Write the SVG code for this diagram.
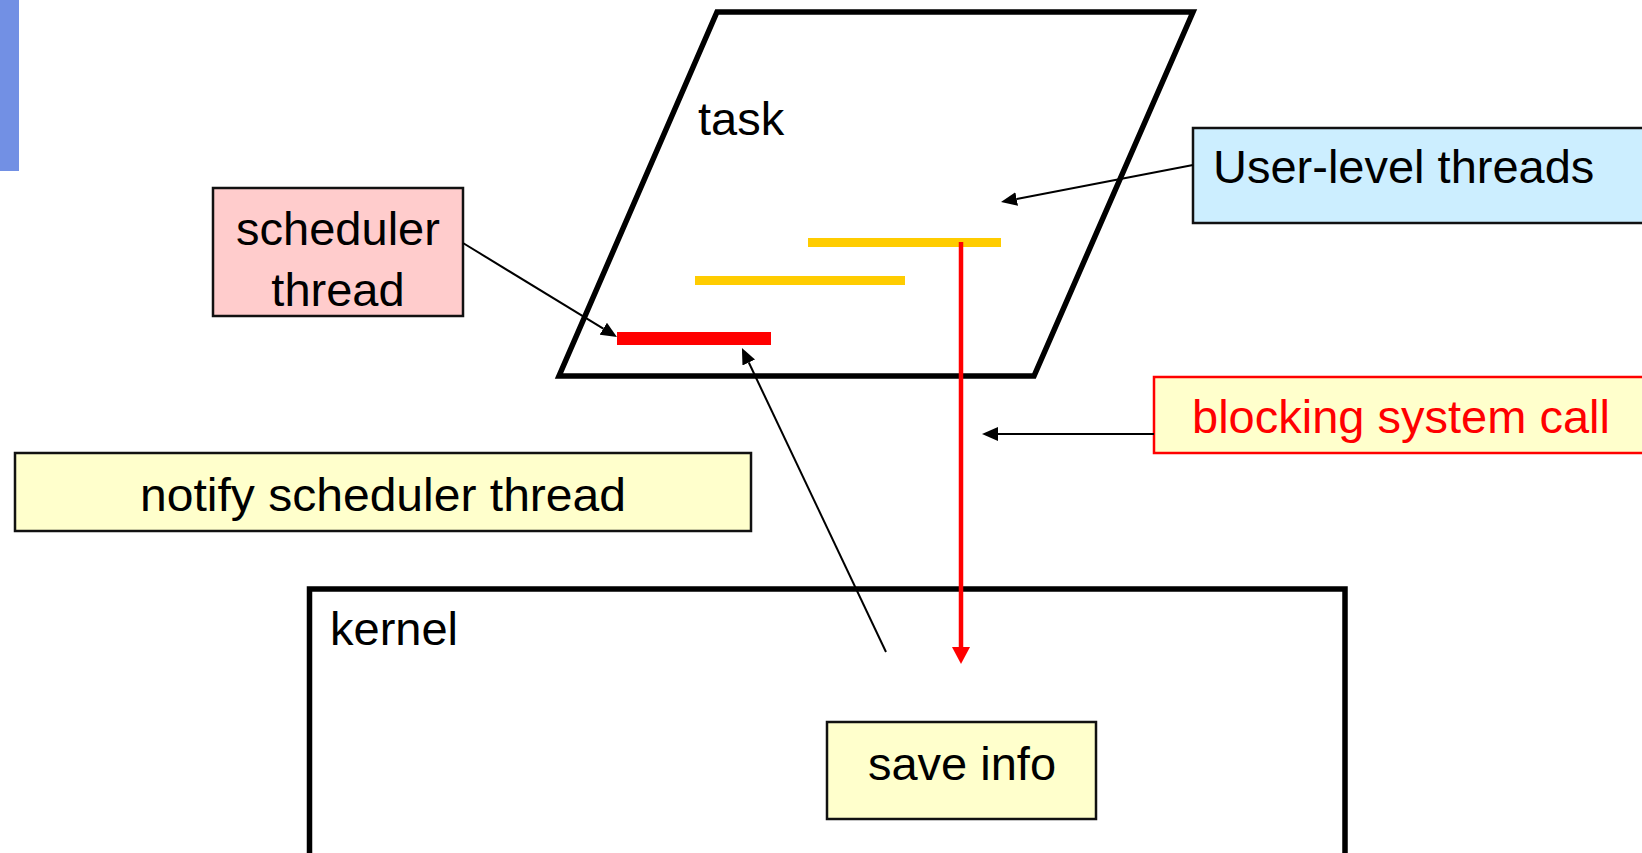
<svg xmlns="http://www.w3.org/2000/svg" width="1642" height="853" viewBox="0 0 1642 853">
  <style>
    .lbl { font-family: "Liberation Sans", Arial, sans-serif; font-size: 47px; fill: #000; }
    .red { fill: #ff0000; }
    .box { stroke: #111; stroke-width: 2.5; }
    .frame { fill: none; stroke: #000; stroke-width: 5.5; stroke-linejoin: miter; }
    .conn { fill: none; stroke: #000; stroke-width: 2; }
  </style>
  <defs>
    <marker id="arrow-black" viewBox="0 0 16 14" refX="0" refY="7" markerWidth="16" markerHeight="14" markerUnits="userSpaceOnUse" orient="auto">
      <path d="M0,0 L16,7 L0,14 z" fill="#000"/>
    </marker>
    <marker id="arrow-red" viewBox="0 0 17 18" refX="0" refY="9" markerWidth="17" markerHeight="18" markerUnits="userSpaceOnUse" orient="auto">
      <path d="M0,0 L17,9 L0,18 z" fill="#ff0000"/>
    </marker>
  </defs>

  <rect width="1642" height="853" fill="#fff"/>

  <!-- slide accent bar -->
  <rect id="accent-bar" x="0" y="0" width="19" height="171" fill="#7290e4"/>

  <!-- task address space -->
  <g id="task">
    <polygon class="frame" points="717,12 1193,12 1034,376 559,376"/>
    <text class="lbl" x="698" y="135">task</text>
  </g>

  <!-- threads inside the task -->
  <g id="threads">
    <rect x="808" y="238" width="193" height="9" fill="#ffcc00"/>
    <rect x="695" y="276" width="210" height="9" fill="#ffcc00"/>
    <rect x="617" y="332" width="154" height="13" fill="#ff0000"/>
  </g>

  <g id="scheduler-thread">
    <rect class="box" x="213" y="188" width="250" height="128" fill="#ffcccc"/>
    <text class="lbl" x="338" y="245" text-anchor="middle">scheduler</text>
    <text class="lbl" x="338" y="306" text-anchor="middle">thread</text>
  </g>

  <g id="user-level-threads">
    <rect class="box" x="1193" y="128" width="460" height="95" fill="#cceeff"/>
    <text class="lbl" x="1213" y="183">User-level threads</text>
  </g>

  <g id="blocking-system-call">
    <rect x="1154" y="377" width="500" height="76" fill="#ffffcc" stroke="#ff0000" stroke-width="2.5"/>
    <text class="lbl red" x="1192" y="433">blocking system call</text>
  </g>

  <g id="notify-scheduler-thread">
    <rect class="box" x="15" y="453" width="736" height="78" fill="#ffffcc"/>
    <text class="lbl" x="383" y="511" text-anchor="middle" textLength="486" lengthAdjust="spacingAndGlyphs">notify scheduler thread</text>
  </g>

  <g id="kernel">
    <polyline class="frame" points="309.5,860 309.5,589 1345,589 1345,860" stroke-width="6"/>
    <text class="lbl" x="330" y="645">kernel</text>
  </g>

  <g id="save-info">
    <rect class="box" x="827" y="722" width="269" height="97" fill="#ffffcc"/>
    <text class="lbl" x="962" y="780" text-anchor="middle">save info</text>
  </g>

  <!-- connectors -->
  <g id="connectors">
    <line class="conn" x1="1193" y1="165" x2="1016.7" y2="199" marker-end="url(#arrow-black)"/>
    <line class="conn" x1="463" y1="243" x2="603.3" y2="328.7" marker-end="url(#arrow-black)"/>
    <line class="conn" x1="886" y1="652" x2="748.8" y2="362.5" marker-end="url(#arrow-black)"/>
    <line class="conn" x1="1154" y1="434" x2="998" y2="434" marker-end="url(#arrow-black)"/>
    <line x1="961" y1="242" x2="961" y2="647" stroke="#ff0000" stroke-width="4.5" marker-end="url(#arrow-red)"/>
  </g>
</svg>
